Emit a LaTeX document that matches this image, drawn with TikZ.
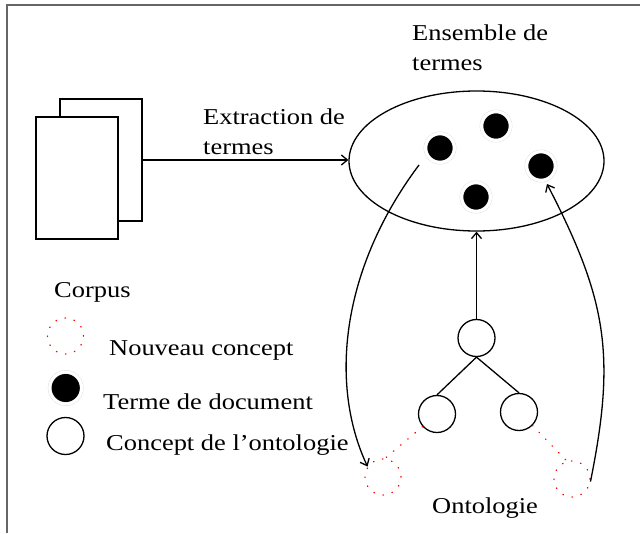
\documentclass[tikz,border=0pt]{standalone}
\usepackage{fontspec}
\setmainfont{Liberation Serif}[FakeStretch=1.165]
\usetikzlibrary{shapes.geometric,arrows.meta}

\begin{document}
\begin{tikzpicture}[
	x=1pt, y=-1pt,
	lbl/.style={font=\fontsize{22.7}{30}\selectfont, inner sep=0pt, anchor=base west, align=left},
	page/.style={draw, rectangle, line width=1.3pt, fill=white, minimum width=82pt, minimum height=122pt, inner sep=0pt},
	term/.style={circle, fill=black, draw=gray!35, line width=0.3pt, double=white, double distance=3pt, minimum size=29pt, inner sep=0pt},
	concept/.style={circle, draw, line width=1.3pt, minimum size=37pt, inner sep=0pt},
	newconcept/.style={circle, draw=red, line width=1.3pt, dash pattern=on 0.6pt off 8.8pt, line cap=round, minimum size=36pt, inner sep=0pt},
	>={Straight Barb[length=6pt,width=10pt]}
	]
	\useasboundingbox (0,0) rectangle (640,533);
	
	%-----------------------
	% Frame (only top and left edges show)
	%-----------------------
	\draw[black!60, line width=2pt] (6.7,533) -- (6.7,5) -- (640,5);
	
	%-----------------------
	% Corpus: two stacked pages
	%-----------------------
	\node[page] (back)  at (101,160) {};
	\node[page] (front) at (77,178)  {};
	
	%-----------------------
	% Set of terms
	%-----------------------
	\node[draw, ellipse, line width=1.3pt, minimum width=255pt, minimum height=140pt, inner sep=0pt] (ens) at (476.5,161) {};
	\node[term] (d1) at (440,148) {};
	\node[term] (d2) at (496,126) {};
	\node[term] (d3) at (541,166) {};
	\node[term] (d4) at (476,197) {};
	
	%-----------------------
	% Ontology tree and new concepts
	%-----------------------
	\node[concept] (root) at (476.5,338) {};
	\node[concept] (ch1)  at (437,414)   {};
	\node[concept] (ch2)  at (519,412)   {};
	\node[newconcept] (nc1) at (383,477) {};
	\node[newconcept] (nc2) at (572,479) {};
	
	%-----------------------
	% Legend
	%-----------------------
	\node[newconcept] (lnew) at (65.5,336) {};
	\node[term, minimum size=32pt] (lterm) at (65.7,388) {};
	\node[concept] (lconc) at (65.5,436) {};
	
	%-----------------------
	% Texts (two-line nodes sit on their last line)
	%-----------------------
	\node[lbl] (ensl)   at (412,70)  {Ensemble de\\termes};
	\node[lbl] (extl)   at (203,154) {Extraction de\\termes};
	\node[lbl] (corpus) at (54,297)  {Corpus};
	\node[lbl] (lnewt)  at (109,355) {Nouveau concept};
	\node[lbl] (ltermt) at (103,409) {Terme de document};
	\node[lbl] (lconct) at (106,450) {Concept de l'ontologie};
	\node[lbl] (onto)   at (432,513) {Ontologie};
	
	%-----------------------
	% Connections
	%-----------------------
	\tikzset{connect/.style={->, line width=1.3pt},
		newlink/.style={red, line width=1.3pt, dash pattern=on 0.6pt off 8.8pt, line cap=round}}
	\coordinate (fromE) at (419,165);
	\coordinate (toE)   at (547,184);
	
	% corpus -> set of terms
	\draw[connect] (back.east) -- (back.east -| ens.west);
	
	% ontology -> set of terms
	\draw[connect] (root.north) -- (ens.south);
	\draw[line width=1.3pt] (root.south) -- (ch1.north);
	\draw[line width=1.3pt] (root.south) -- (ch2.north);
	
	% new concepts
	\draw[newlink] (ch1.221) -- (nc1.84);
	\draw[newlink] (ch2.-45) -- (nc2.106);
	\draw[connect] (fromE) .. controls (341,269) and (329,384) .. (nc1.146);
	\draw[connect] (nc2.-8) .. controls (616,355) and (607,300) .. (toE);
	
\end{tikzpicture}
\end{document}
